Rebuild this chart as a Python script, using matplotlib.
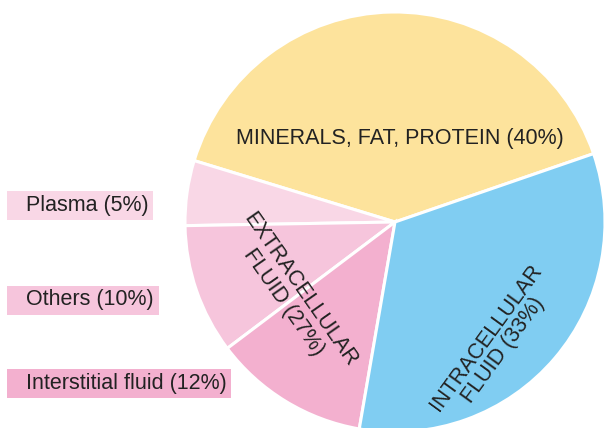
import numpy as np
import matplotlib
matplotlib.use("Agg")
import matplotlib.pyplot as plt
from matplotlib.patches import Rectangle

plt.rcParams['font.family'] = ['Liberation Sans', 'DejaVu Sans']

# body composition shares, counter-clockwise from the right
parts = ['MINERALS, FAT, PROTEIN', 'Plasma', 'Others', 'Interstitial fluid', 'INTRACELLULAR FLUID']
shares = [40, 5, 10, 12, 33]
colors = ['#fde39c', '#f9d7e6', '#f6c5dc', '#f3b0cf', '#80cdf2']

side_labels = ['Plasma', 'Others', 'Interstitial fluid']
side_shares = [5, 10, 12]
side_colors = ['#f9d7e6', '#f6c5dc', '#f3b0cf']

W, H = 607, 428
cx, cy, R = 395, 206, 210

fig = plt.figure(figsize=(W / 100, H / 100), dpi=100)
ax = fig.add_axes([0, 0, 1, 1])
ax.pie(shares, colors=colors, startangle=19, counterclock=True,
       center=(cx, cy), radius=R,
       wedgeprops=dict(edgecolor='white', linewidth=2.2))
ax.set_xlim(0, W)
ax.set_ylim(0, H)
ax.set_aspect('equal')
ax.axis('off')

txt = '#222222'
fs = 15.5
ax.text(cx + 5, cy + 84, f'{parts[0]} ({shares[0]}%)', ha='center', va='center',
        fontsize=fs, color=txt)

extra = sum(side_shares)
ax.text(cx - 103, cy - 74, f'EXTRACELLULAR\nFLUID ({extra}%)', ha='center', va='center',
        rotation=-55, rotation_mode='anchor', fontsize=fs, color=txt, linespacing=1.0)
ax.text(cx + 100, cy - 122, f'INTRACELLULAR\nFLUID ({shares[4]}%)', ha='center', va='center',
        rotation=54, rotation_mode='anchor', fontsize=fs, color=txt, linespacing=1.0)

# boxed labels on the left
box_y = [223, 128, 45]
box_w = [146, 152, 224]
for lab, val, col, y, w in zip(side_labels, side_shares, side_colors, box_y, box_w):
    ax.add_patch(Rectangle((7, y - 14.5), w, 29, facecolor=col, edgecolor='none'))
    ax.text(26, y, f'{lab} ({val}%)', ha='left', va='center', fontsize=fs, color=txt)

fig.savefig('out.png', dpi=100)
